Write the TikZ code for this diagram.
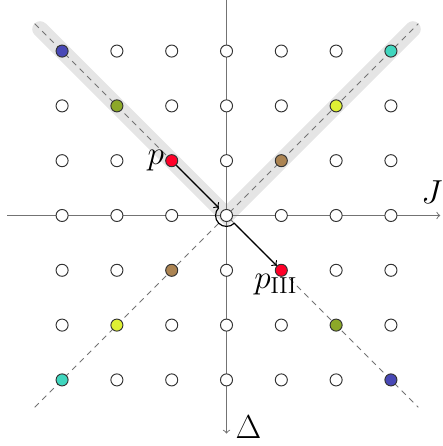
\documentclass[tikz,border=0pt]{standalone}
\usetikzlibrary{positioning}
\definecolor{dotblue}{RGB}{72,72,182}
\definecolor{dotteal}{RGB}{64,214,190}
\definecolor{dotolive}{RGB}{140,168,40}
\definecolor{dotyellow}{RGB}{222,240,52}
\definecolor{dotred}{RGB}{255,0,40}
\definecolor{dotbrown}{RGB}{172,132,82}
\begin{document}
\begin{tikzpicture}[font=\LARGE]
        \tikzstyle{site} = [circle, draw=black!80, fill=white, inner sep=0pt, minimum size=2.2mm, line width=0.5pt]
        \tikzstyle{axis} = [->, black!55, line width=0.5pt]
        \tikzstyle{mirror} = [black!55, dash pattern=on 3pt off 2.5pt, line width=0.5pt]
        \tikzstyle{band} = [black!10, line width=2.9mm, line cap=round]
        \tikzstyle{line} = [->, line width=0.6pt]
        \useasboundingbox (-4.133,-4.206) rectangle (3.933,3.932);

        \coordinate (jlo) at (-4,0);
        \coordinate (jhi) at (3.9,0);
        \coordinate (dtop) at (0,3.93);
        \coordinate (dbot) at (0,-3.98);
        \coordinate (ul) at (-3.5,3.5);
        \coordinate (ur) at (3.5,3.5);
        \coordinate (ll) at (-3.5,-3.5);
        \coordinate (lr) at (3.5,-3.5);
        \coordinate (bl) at (-3.4,3.4);
        \coordinate (br) at (3.4,3.4);
        \coordinate (o) at (0,0);

        % shaded half diagonals
        \draw [band] (bl) -- (o) -- (br);
        \draw [mirror] (ul) -- (lr);
        \draw [mirror] (ll) -- (ur);
        \draw [axis] (jlo) -- (jhi);
        \draw [axis] (dtop) -- (dbot);

        % lattice
        \foreach \x in {-3,...,3}
          \foreach \y in {-3,...,3} {
            \pgfmathtruncatemacro\ondiag{(abs(\x)==abs(\y)) && (\x!=0)}
            \ifnum\ondiag=0 \node (s\x\y) [site] at (\x,\y) {}; \fi
          }
        \node (b1) [site, fill=dotblue] at (-3,3) {};
        \node (b2) [site, fill=dotblue] at (3,-3) {};
        \node (t1) [site, fill=dotteal] at (3,3) {};
        \node (t2) [site, fill=dotteal] at (-3,-3) {};
        \node (g1) [site, fill=dotolive] at (-2,2) {};
        \node (g2) [site, fill=dotolive] at (2,-2) {};
        \node (y1) [site, fill=dotyellow] at (2,2) {};
        \node (y2) [site, fill=dotyellow] at (-2,-2) {};
        \node (n1) [site, fill=dotbrown] at (1,1) {};
        \node (n2) [site, fill=dotbrown] at (-1,-1) {};
        \node (p) [site, fill=dotred] at (-1,1) {};
        \node (pIII) [site, fill=dotred] at (1,-1) {};

        \coordinate (turnA) at (135:0.2);
        \draw [line] (p) -- (turnA);
        \draw [line] (turnA) arc [start angle=135, end angle=315, radius=0.2] -- (pIII);

        \node [left=-1mm of p] (plab) {$p$};
        \node [below=-1.7mm of pIII, xshift=-1mm] (pIIIlab) {$p_{\mathrm{III}}$};
        \node at (3.75,0.42) (jlab) {$J$};
        \node at (0.4,-3.86) (dlab) {$\Delta$};
\end{tikzpicture}
\end{document}
